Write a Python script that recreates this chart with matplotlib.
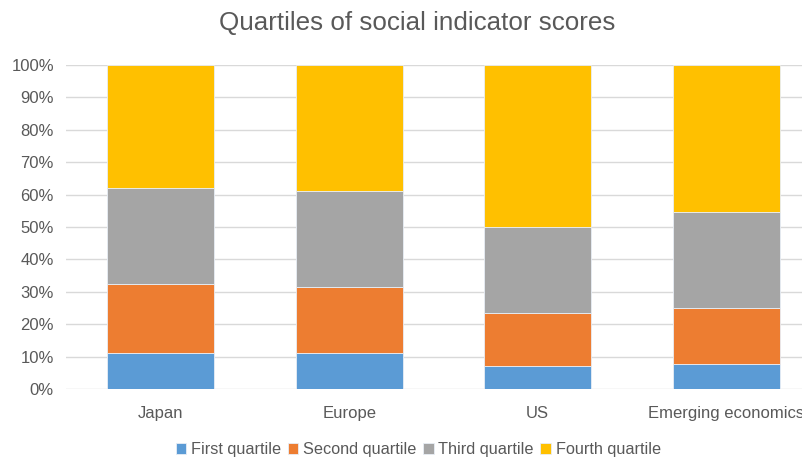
import numpy as np
import matplotlib
matplotlib.use("Agg")
from matplotlib import pyplot as plt
from matplotlib.ticker import PercentFormatter

plt.rcParams['font.family'] = ['Liberation Sans', 'DejaVu Sans']

regions = ["Japan", "Europe", "US", "Emerging economics"]
series = ["First quartile", "Second quartile", "Third quartile", "Fourth quartile"]
first = [11.2, 11.2, 7.0, 7.6]
second = [21.3, 20.2, 16.4, 17.4]
third = [29.6, 29.6, 26.6, 29.5]
fourth = [37.9, 39.0, 50.0, 45.5]
colors = ["#5B9BD5", "#ED7D31", "#A5A5A5", "#FFC000"]

fig = plt.figure(figsize=(8.03, 4.59), dpi=100)
ax = fig.add_axes([0.0828, 0.1525, 0.939, 0.706])

x = np.arange(len(regions))
bottom = np.zeros(len(regions))
for name, vals, c in zip(series, [first, second, third, fourth], colors):
    ax.bar(x, vals, 0.57, bottom=bottom, color=c, label=name,
           edgecolor="#E8EEF6", linewidth=0.6, zorder=3)
    bottom += np.array(vals)

ax.set_xlim(-0.5, len(regions) - 0.5)
ax.set_ylim(0, 100)
ax.set_yticks(np.arange(0, 101, 10))
ax.yaxis.set_major_formatter(PercentFormatter(decimals=0))
ax.set_xticks(x)
ax.set_xticklabels(regions)
ax.grid(axis="y", color="#D9D9D9", linewidth=1, zorder=0)
for s in ax.spines.values():
    s.set_visible(False)
ax.tick_params(length=0, labelsize=12, colors="#595959", pad=9)
ax.tick_params(axis="x", pad=12)

fig.suptitle("Quartiles of social indicator scores", x=0.52, y=0.975,
             fontsize=18.7, color="#595959")
fig.legend(loc="center", bbox_to_anchor=(0.521, 0.021), ncol=4, frameon=False,
           fontsize=11.7, labelcolor="#595959", handlelength=0.65,
           handleheight=0.65, handletextpad=0.3, columnspacing=0.4)

fig.savefig("out.png", dpi=100)
